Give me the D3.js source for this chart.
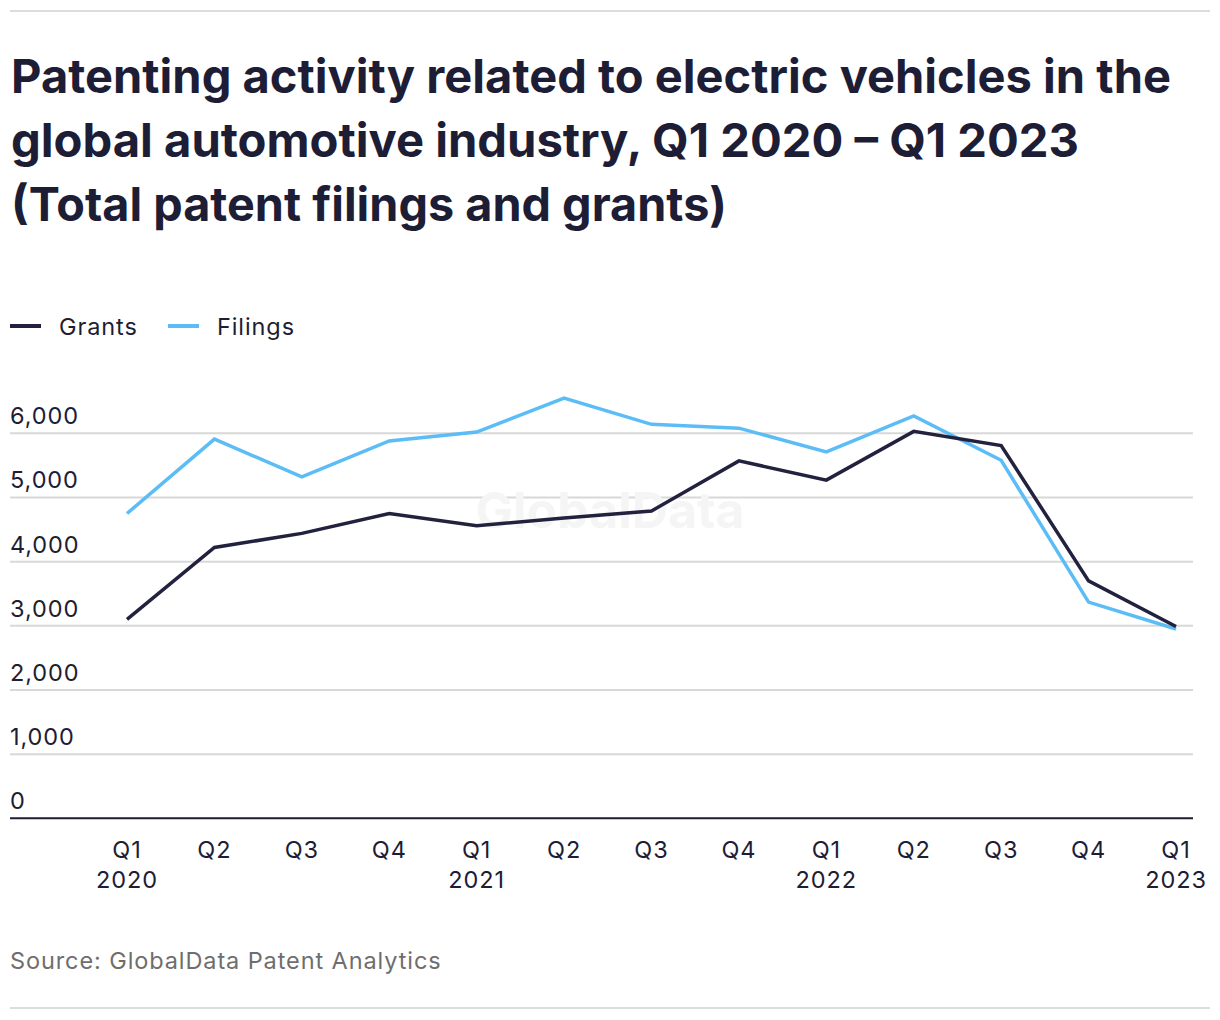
<!DOCTYPE html>
<html>
<head>
<meta charset="utf-8">
<script src="https://cdn.jsdelivr.net/npm/d3@7"></script>
<style>
  body { margin: 0; background: #fff; }
  svg { display: block; font-family: Inter, "Noto Sans", sans-serif; }
  .small { font-size: 23.5px; letter-spacing: 0.9px; }
</style>
</head>
<body>
<div id="chart"></div>
<script>
// Data
const quarters = ["Q1 2020", "Q2 2020", "Q3 2020", "Q4 2020",
                  "Q1 2021", "Q2 2021", "Q3 2021", "Q4 2021",
                  "Q1 2022", "Q2 2022", "Q3 2022", "Q4 2022", "Q1 2023"];
const grants = [3100, 4220, 4440, 4750, 4560, 4680, 4790, 5570, 5270, 6030, 5810, 3700, 2990];
const filings = [4750, 5910, 5320, 5880, 6020, 6550, 6140, 6080, 5710, 6270, 5580, 3370, 2950];
const yTicks = [0, 1000, 2000, 3000, 4000, 5000, 6000];

const titleLines = [
    "Patenting activity related to electric vehicles in the",
    "global automotive industry, Q1 2020 \u2013 Q1 2023",
    "(Total patent filings and grants)"
];
const titleWidths = [1160, 1068, 716];

const series = [
    {name: "Grants", values: grants, colour: "#22223f"},
    {name: "Filings", values: filings, colour: "#5cbdf6"}
];

const width = 1220;
const height = 1020;
const textColour = "#1d1d35";

const svg = d3.select("#chart").append("svg")
    .attr("width", width)
    .attr("height", height);

// Top and bottom rules
svg.append("line")
    .attr("x1", 10).attr("x2", 1210).attr("y1", 11).attr("y2", 11)
    .attr("stroke", "#dcdcdc").attr("stroke-width", 2);
svg.append("line")
    .attr("x1", 10).attr("x2", 1210).attr("y1", 1008).attr("y2", 1008)
    .attr("stroke", "#dcdcdc").attr("stroke-width", 2);

// Title
svg.append("g").selectAll("text")
    .data(titleLines)
    .join("text")
    .attr("x", 11)
    .attr("y", (d, i) => 93 + i * 64)
    .attr("font-size", 47)
    .attr("font-weight", 700)
    .attr("fill", textColour)
    .attr("textLength", (d, i) => titleWidths[i])
    .attr("lengthAdjust", "spacingAndGlyphs")
    .text(d => d);

// Legend
const legend = svg.append("g").attr("transform", "translate(10, 326)");
const legendOffsets = [0, 158];
series.forEach((s, i) => {
    const g = legend.append("g").attr("transform", `translate(${legendOffsets[i]}, 0)`);
    g.append("line")
        .attr("x1", 0).attr("x2", 31)
        .attr("stroke", s.colour).attr("stroke-width", 4);
    g.append("text")
        .attr("class", "small")
        .attr("x", 49).attr("y", 8.5)
        .attr("fill", textColour)
        .text(s.name);
});

// Scales
const x = d3.scalePoint()
    .domain(quarters)
    .range([127, 1176]);

const y = d3.scaleLinear()
    .domain([0, 6000])
    .range([818.3, 433.3]);

// Gridlines and y labels
const grid = svg.append("g");
grid.selectAll("line")
    .data(yTicks.filter(d => d > 0))
    .join("line")
    .attr("x1", 10).attr("x2", 1193)
    .attr("y1", d => y(d)).attr("y2", d => y(d))
    .attr("stroke", "#d8d8d8").attr("stroke-width", 2);

grid.selectAll("text")
    .data(yTicks)
    .join("text")
    .attr("class", "small")
    .attr("x", 10)
    .attr("y", d => y(d) - 9)
    .attr("fill", textColour)
    .text(d => d3.format(",")(d));

// Watermark
svg.append("text")
    .attr("x", 610).attr("y", 528)
    .attr("text-anchor", "middle")
    .attr("font-size", 50)
    .attr("font-weight", 700)
    .attr("fill", "#f5f5f5")
    .text("GlobalData");

// Baseline
svg.append("line")
    .attr("x1", 10).attr("x2", 1193)
    .attr("y1", y(0)).attr("y2", y(0))
    .attr("stroke", textColour).attr("stroke-width", 2);

// X labels
const xLabels = svg.append("g").selectAll("text")
    .data(quarters)
    .join("text")
    .attr("class", "small")
    .attr("x", d => x(d))
    .attr("y", 858)
    .attr("text-anchor", "middle")
    .attr("fill", textColour);

xLabels.append("tspan")
    .attr("x", d => x(d))
    .text(d => d.split(" ")[0]);
xLabels.filter(d => d.startsWith("Q1"))
    .append("tspan")
    .attr("x", d => x(d))
    .attr("dy", 30)
    .text(d => d.split(" ")[1]);

// Lines
const line = d3.line()
    .x((d, i) => x(quarters[i]))
    .y(d => y(d));

svg.append("g").selectAll("path")
    .data(series.slice().reverse())
    .join("path")
    .attr("d", d => line(d.values))
    .attr("fill", "none")
    .attr("stroke", d => d.colour)
    .attr("stroke-width", 3.5)
    .attr("stroke-linejoin", "miter");

// Source
svg.append("text")
    .attr("class", "small")
    .attr("x", 10).attr("y", 969)
    .attr("fill", "#6e6e6e")
    .text("Source: GlobalData Patent Analytics");
</script>
</body>
</html>
